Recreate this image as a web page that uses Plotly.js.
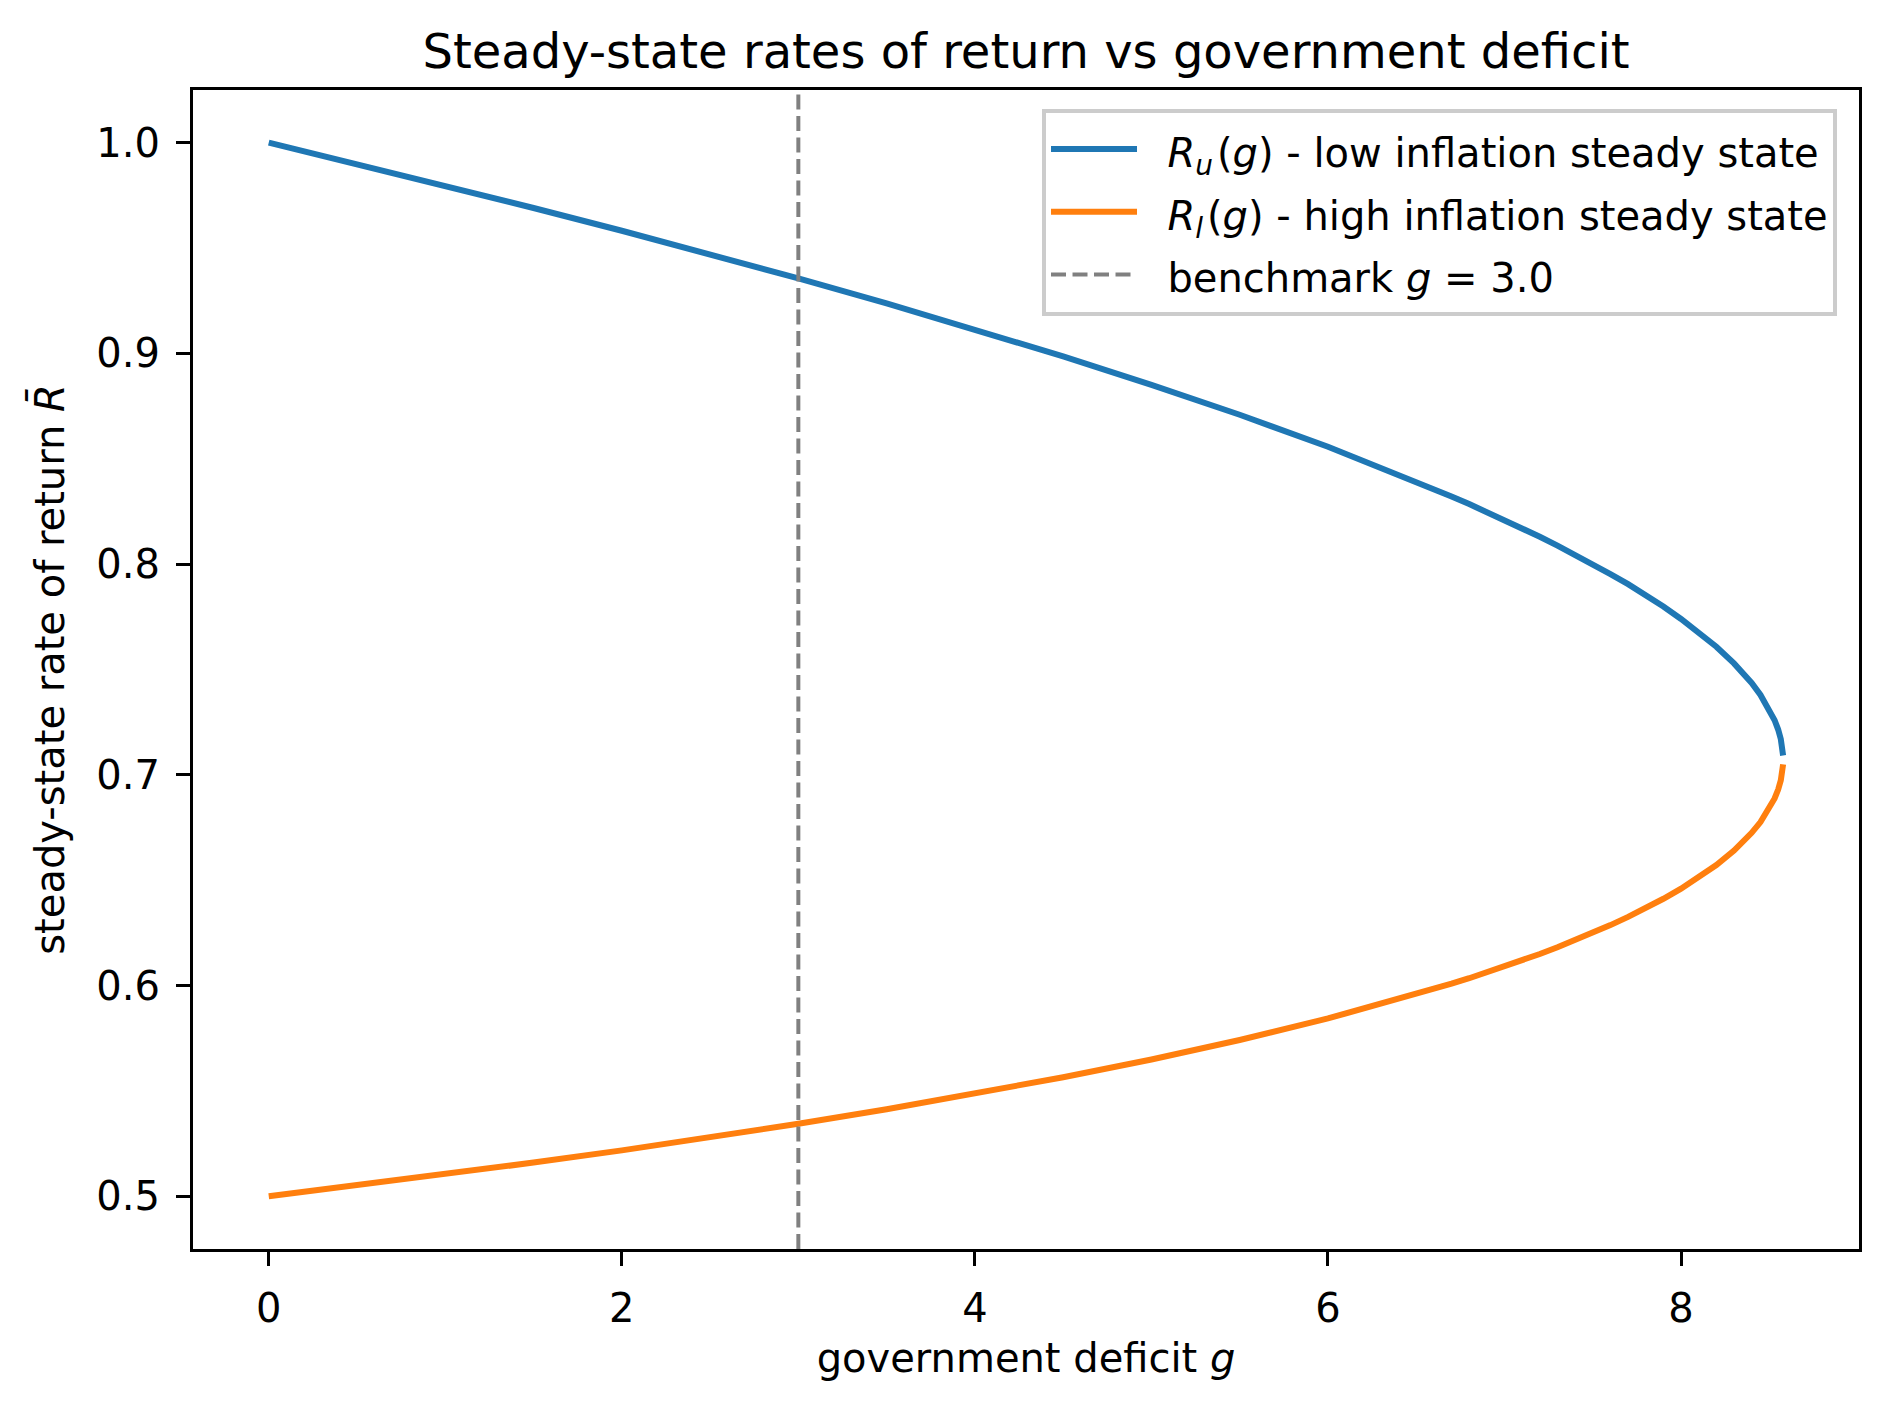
<!DOCTYPE html>
<html>
<head>
<meta charset="utf-8">
<script src="https://cdn.plot.ly/plotly-3.0.1.min.js"></script>
<style>
    html, body { margin: 0; padding: 0; background: #ffffff; }
</style>
</head>
<body>
<div id="chart" style="width:1889px;height:1409px;"></div>
<script>
// government deficit grid
var deficit = [0, 0.5, 1, 1.5, 2, 2.5, 3, 3.5, 4, 4.5, 5, 5.5, 6, 6.5, 6.6, 6.7, 6.8, 6.9,
               7, 7.1, 7.2, 7.3, 7.4, 7.5, 7.6, 7.7, 7.8, 7.9, 8, 8.1, 8.2, 8.3, 8.35,
               8.4, 8.45, 8.5, 8.53, 8.55, 8.565, 8.578];

// low inflation steady state R_u(g)
var returnUpper = [1.0, 0.9899, 0.9796, 0.9690, 0.9582, 0.9470, 0.9356, 0.9237, 0.9114, 0.8986,
                   0.8851, 0.8709, 0.8557, 0.8392, 0.8357, 0.8321, 0.8285, 0.8248,
                   0.8210, 0.8170, 0.8130, 0.8088, 0.8045, 0.8000, 0.7953, 0.7905, 0.7853,
                   0.7799, 0.7740, 0.7677, 0.7608, 0.7529, 0.7485,
                   0.7436, 0.7379, 0.7311, 0.7259, 0.7215, 0.7170, 0.7092];

// high inflation steady state R_l(g)
var returnLower = [0.5, 0.5051, 0.5104, 0.5160, 0.5218, 0.5280, 0.5344, 0.5413, 0.5486, 0.5565,
                   0.5649, 0.5742, 0.5844, 0.5958, 0.5983, 0.6009, 0.6035, 0.6062,
                   0.6091, 0.6120, 0.6150, 0.6182, 0.6215, 0.6250, 0.6287, 0.6326, 0.6367,
                   0.6412, 0.6460, 0.6513, 0.6572, 0.6641, 0.6680,
                   0.6725, 0.6776, 0.6839, 0.6888, 0.6930, 0.6974, 0.7050];

var benchmarkG = 3.0;

var xRange = [-0.429, 9.008];
var yRange = [0.475, 1.025];

var font = 'DejaVu Sans, sans-serif';
var gap = '\u00a0\u00a0';

// legend rows are taller than the text, so the text is set smaller than the legend font
function legendText(s)
{
    return '<span style="font-size:40px">' + gap + s + '</span>';
}

var plotlyData = [
    {
        x: deficit,
        y: returnUpper,
        type: 'scatter',
        mode: 'lines',
        name: legendText('<i>R</i><sub><i>u</i></sub>\u200a(<i>g</i>) - low inflation steady state'),
        line: { color: '#1f77b4', width: 6 }
    },
    {
        x: deficit,
        y: returnLower,
        type: 'scatter',
        mode: 'lines',
        name: legendText('<i>R</i><sub><i>l</i></sub>\u200a(<i>g</i>) - high inflation steady state'),
        line: { color: '#ff7f0e', width: 6 }
    },
    {
        // vertical benchmark line spanning the whole axis
        x: [benchmarkG, benchmarkG],
        y: yRange,
        type: 'scatter',
        mode: 'lines',
        name: legendText('benchmark <i>g</i> = 3.0'),
        line: { color: '#808080', width: 4, dash: '15px,6.5px' }
    }
];

var axisCommon = {
    showgrid: false,
    zeroline: false,
    showline: true,
    mirror: true,
    linecolor: '#000000',
    linewidth: 3.3,
    ticks: 'outside',
    ticklen: 14,
    tickwidth: 3.3,
    tickcolor: '#000000',
    tickfont: { family: font, size: 40, color: '#000000' },
    automargin: false
};

var plotlyLayout = {
    width: 1889,
    height: 1409,
    paper_bgcolor: '#ffffff',
    plot_bgcolor: '#ffffff',
    margin: { l: 193, r: 30, t: 90, b: 160 },
    font: { family: font, size: 40, color: '#000000' },
    title: {
        text: 'Steady-state rates of return vs government deficit',
        font: { family: font, size: 48, color: '#000000' },
        xref: 'paper',
        x: 0.5,
        xanchor: 'center',
        yref: 'container',
        y: 0.964,
        yanchor: 'middle'
    },
    xaxis: Object.assign({}, axisCommon, {
        range: xRange,
        tickvals: [0, 2, 4, 6, 8],
        ticklabelstandoff: 8,
        title: { text: 'government deficit <i>g</i>', font: { family: font, size: 40 }, standoff: 14 }
    }),
    yaxis: Object.assign({}, axisCommon, {
        range: yRange,
        tickvals: [0.5, 0.6, 0.7, 0.8, 0.9, 1.0],
        tickformat: '.1f',
        ticklabelstandoff: 8,
        title: { text: 'steady-state rate of return <i>R\u0304</i>', font: { family: font, size: 40 }, standoff: 20 }
    }),
    showlegend: true,
    legend: {
        x: 0.9868,
        y: 0.984,
        xanchor: 'right',
        yanchor: 'top',
        bgcolor: 'rgba(255,255,255,0.8)',
        bordercolor: '#cccccc',
        borderwidth: 4,
        font: { family: font, size: 46, color: '#000000' },
        itemwidth: 86,
        tracegroupgap: 0
    }
};

var plotlyConfig = {
    displayModeBar: false,
    responsive: false
};

Plotly.newPlot('chart', plotlyData, plotlyLayout, plotlyConfig);
</script>
</body>
</html>
